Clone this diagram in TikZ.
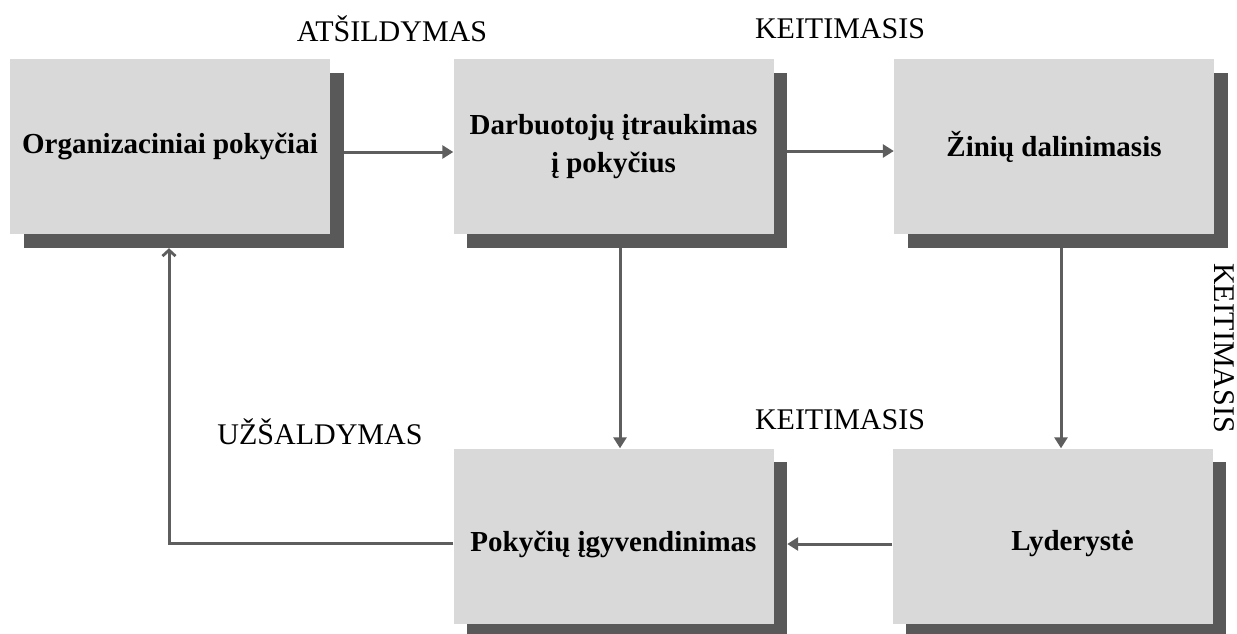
\documentclass[tikz,border=0pt]{standalone}
\usepackage{fontspec}
\setmainfont{Liberation Serif}
\usetikzlibrary{arrows.meta,calc,shadows}
\definecolor{boxfill}{HTML}{D9D9D9}
\definecolor{boxshade}{HTML}{595959}
\definecolor{linec}{HTML}{5E5E5E}
\newcommand{\lowered}[1]{\raisebox{-8pt}[\height][\depth]{#1}}
\tikzset{
  stagebox/.style={fill=boxfill, minimum width=320pt, minimum height=175pt,
    inner sep=0pt, align=center, font=\fontsize{29}{38}\selectfont\bfseries,
    drop shadow={shadow xshift=13.5pt, shadow yshift=-13.5pt, fill=boxshade, opacity=1}},
  phase/.style={font=\fontsize{30}{34}\selectfont, inner sep=0pt},
  conn/.style={draw=linec, line width=3pt, -{Triangle[length=11pt,width=13pt]}},
  backconn/.style={draw=linec, line width=3pt, -{Straight Barb[length=6pt,width=13pt,line width=2.8pt]}}
}
\begin{document}
\begin{tikzpicture}[x=1pt,y=-1pt]
\useasboundingbox (0,0) rectangle (1237,633);

% stages of the change cycle
\node[stagebox] (b1) at (170,146.5) {Organizaciniai pokyčiai};
\node[stagebox] (b2) at (613.5,146.5) {Darbuotojų įtraukimas\\į pokyčius};
\node[stagebox] (b3) at (1054,146.5) {Žinių dalinimasis};
\node[stagebox] (b4) at (613.5,536) {\lowered{Pokyčių įgyvendinimas}};
\node[stagebox] (b5) at (1052.5,536) {\lowered{\hspace*{40pt}Lyderystė}};

% phase names
\node[phase] (t1) at (392,29) {ATŠILDYMAS};
\node[phase] (t2) at (840,29) {KEITIMASIS};
\node[phase] (t3) at (840,420) {KEITIMASIS};
\node[phase] (t4) at (320,432) {UŽŠALDYMAS};
\node[phase, rotate=-90] (t5) at (1224,348) {KEITIMASIS};

% connectors
\draw[conn] ($(b1.east)+(13.5,5.5)$) -- ($(b2.west)+(0,5.5)$);
\draw[conn] ($(b2.east)+(13.5,4.5)$) -- ($(b3.west)+(0,4.5)$);
\draw[conn] ($(b2.south)+(6.5,13.5)$) -- ($(b4.north)+(6.5,0)$);
\draw[conn] ($(b3.south)+(7,13.5)$) -- ($(b5.north)+(8.5,0)$);
\draw[conn] ($(b5.west)+(0,8)$) -- ($(b4.east)+(13.5,8)$);
\draw[backconn] ($(b4.west)+(0,7)$) -| ($(b1.south)+(-1,14)$);
\end{tikzpicture}
\end{document}
